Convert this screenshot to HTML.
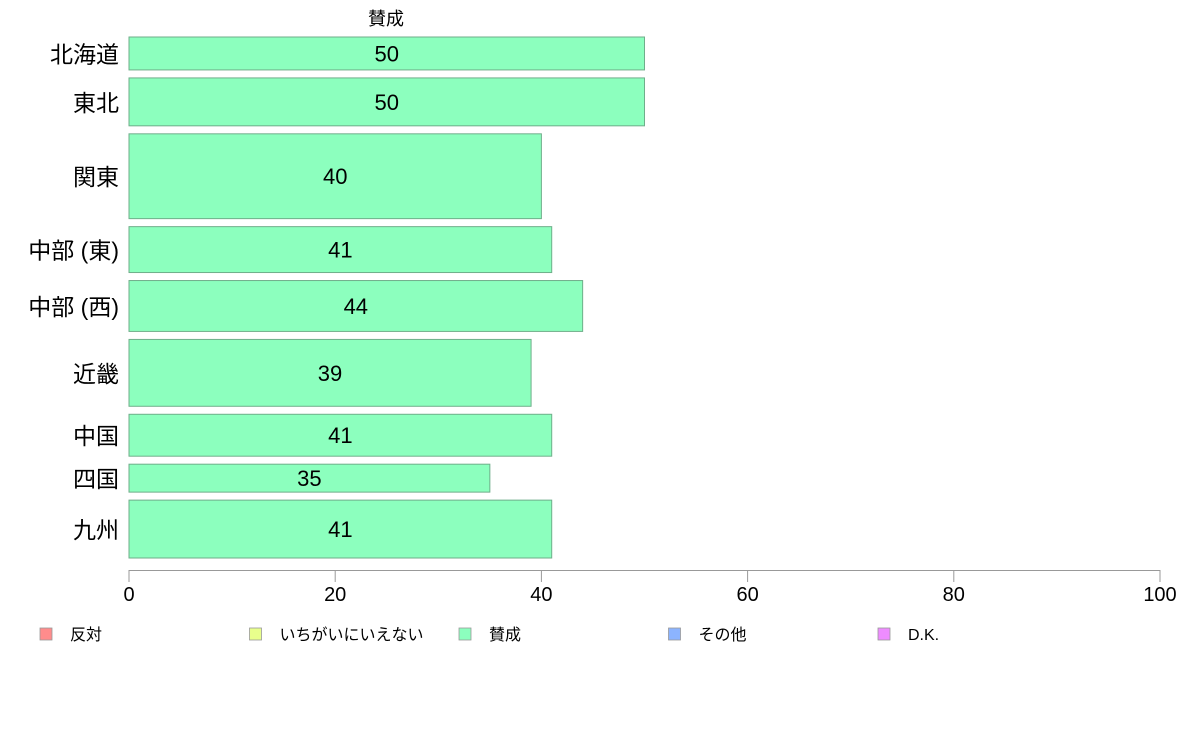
<!DOCTYPE html>
<html><head><meta charset="utf-8"><style>
body{margin:0;background:#fff;font-family:"Liberation Sans","Noto Sans CJK JP",sans-serif;}
svg text{font-family:"Liberation Sans","Noto Sans CJK JP",sans-serif;}
</style></head><body>
<svg id="chart" width="1188" height="736" xmlns="http://www.w3.org/2000/svg"></svg>
<script>
const categories=["北海道","東北","関東","中部 (東)","中部 (西)","近畿","中国","四国","九州"];
const values=[50,50,40,41,44,39,41,35,41];
const weights=[33,48,85,46,51,67,42,28,58];
const ticks=[0,20,40,60,80,100];
const legendLabels=["反対","いちがいにいえない","賛成","その他","D.K."];
const legendColors=["#ff8c8c","#e8ff8c","#8cffbe","#8cb4ff","#ee8cff"];
const NS="http://www.w3.org/2000/svg";
const svg=document.getElementById("chart");
function mk(t,a,txt){const e=document.createElementNS(NS,t);for(const k in a)e.setAttribute(k,a[k]);if(txt!==undefined)e.textContent=txt;svg.appendChild(e);return e;}
const x0=129,x1=1160,xMax=100;
const xs=v=>x0+(v/xMax)*(x1-x0);
const top0=37,gap=8,plotBottom=558;
const totalW=weights.reduce((a,b)=>a+b,0);
const avail=plotBottom-top0-gap*(categories.length-1);
let y=top0;
const t=mk("text",{x:386,y:25,"font-size":18,"text-anchor":"middle",fill:"#000"},"賛成");


categories.forEach((c,i)=>{
  const h=weights[i]/totalW*avail;
  const r=mk("rect",{x:x0,y:y,width:xs(values[i])-x0,height:h,fill:"#8cffbe",stroke:"#6fae8a","stroke-width":1});
  
  
  const v=mk("text",{x:(x0+xs(values[i]))/2,y:y+h/2+8,"font-size":22,"text-anchor":"middle",fill:"#000"},values[i]);
  
  
  const l=mk("text",{x:119,y:y+h/2+9,"font-size":23,"text-anchor":"end",fill:"#000"},c);
  
  
  y+=h+gap;
});
const ax=mk("line",{x1:x0,x2:x1,y1:570.5,y2:570.5,stroke:"#999","stroke-width":1});


ticks.forEach(tv=>{
  const tl=mk("line",{x1:xs(tv),x2:xs(tv),y1:570,y2:582,stroke:"#999","stroke-width":1});
  
  
  const tt=mk("text",{x:xs(tv),y:601,"font-size":20,"text-anchor":"middle",fill:"#000"},tv);
  
  
});
legendLabels.forEach((lb,i)=>{
  const lx=40+i*209.5;
  const s=mk("rect",{x:lx,y:628,width:12,height:12,fill:legendColors[i],stroke:"#999","stroke-width":0.8});
  
  
  const lt=mk("text",{x:lx+30,y:640,"font-size":16,fill:"#000"},lb);
  
  
});
</script>
</body></html>
